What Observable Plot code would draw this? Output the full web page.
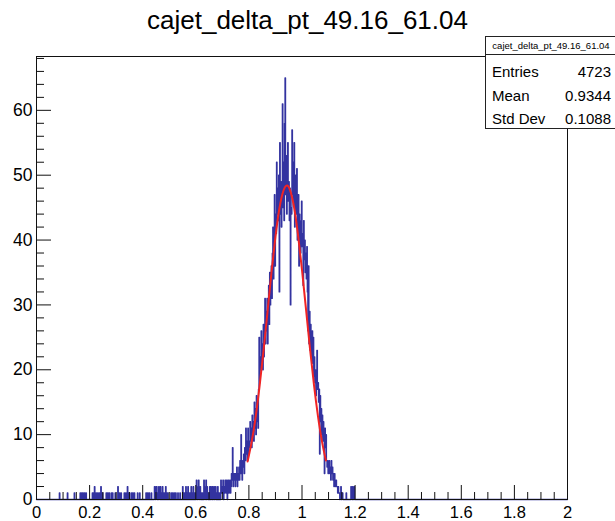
<!DOCTYPE html>
<html>
<head>
<meta charset="utf-8">
<script src="https://cdn.jsdelivr.net/npm/d3@7"></script>
<script src="https://cdn.jsdelivr.net/npm/@observablehq/plot@0.6"></script>
<style>
  body { margin: 0; background: #fff; }
  #wrap { position: relative; width: 615px; height: 521px; overflow: hidden; font-family: "Liberation Sans", Arial, sans-serif; background: #fff; }
  #chart { position: absolute; left: 0; top: 0; }
  #title { position: absolute; left: 0; top: 5px; width: 615px; text-align: center; font-size: 26px; color: #000; white-space: nowrap; }
  #stats { position: absolute; left: 485px; top: 36px; width: 140px; height: 91px; border: 1px solid #222; background: #fff; color: #000; }
  #stats .head { position: absolute; left: 0; top: 0; width: 130px; height: 17px; border-bottom: 1px solid #222; font-size: 9.5px; line-height: 18px; text-align: center; white-space: nowrap; }
  #stats .row { position: absolute; left: 0; width: 130px; height: 20px; font-size: 15px; line-height: 20px; }
  #stats .row .k { position: absolute; left: 6px; }
  #stats .row .v { position: absolute; right: 5px; }
</style>
</head>
<body>
<div id="wrap">
  <div id="chart"></div>
  <div id="title"></div>
  <div id="stats"></div>
</div>
<script>
// ---- data ----
const histTitle = "cajet_delta_pt_49.16_61.04";
const statNames = ["Entries", "Mean", "Std Dev"];
const statValues = ["4723", "0.9344", "0.1088"];

const binWidth = 0.002;          // 1000 bins over [0, 2]
// sparse low tail: bin index and count
const tailBins = [43,58,71,82,85,87,90,93,
  105,107,109,112,115,118,121,124,
  131,134,137,141,143,148,153,156,159,
  165,168,171,174,178,181,184,190,194,
  206,209,212,216,
  222,223,225,226,228,230,231,233,235,237,239,241,243,245,247,
  253,256,259,262,266,270,
  275,277,279,281,283,285,287,289,291,293,295,297,
  299,301,302,304,305,307,308,310,312,
  315,316,318,319,321,322,324,326,
  328,329,331,333,334,336,337,339,341,343,345,347,348,349];
const tailCounts = [1,1,1,1,1,1,1,1,
  1,1,2,1,1,1,2,1,
  1,1,1,1,1,1,2,1,1,
  1,1,2,1,1,1,1,1,1,
  1,1,1,1,
  2,1,2,2,1,2,1,2,1,2,1,1,2,1,1,
  1,1,1,1,1,1,
  2,1,1,2,1,2,1,1,2,1,2,1,
  1,3,1,2,3,1,2,1,1,
  3,2,1,3,2,1,1,2,
  2,1,2,1,2,1,2,1,2,1,1,3,1,2];
// contiguous core, starting at bin 350 (x = 0.70)
const coreStartBin = 350;
const coreCounts = [
  1,3,0,2,1,3,2,1,3,0,2,3,1,2,3,1,
  2,4,3,8,2,4,3,
  4,2,4,3,5,2,4,3,
  5,3,6,4,10,5,3,6,
  5,7,4,8,6,11,7,9,6,11,7,9,
  8,12,9,11,8,13,10,12,9,15,11,14,
  10,16,12,15,11,17,
  25,18,22,20,26,21,24,
  20,27,22,25,31,24,29,
  26,31,24,29,33,27,35,30,
  33,36,31,38,42,34,40,47,36,44,
  41,52,44,48,43,50,32,55,
  44,49,42,47,61,45,52,43,58,
  65,47,53,44,50,
  55,46,49,43,48,30,45,44,57,47,52,46,55,42,50,44,46,51,40,45,47,36,44,40,38,43,46,39,41,33,43,37,40,35,38,34,39,
  32,26,36,24,29,23,27,25,22,26,21,
  25,19,22,18,20,16,19,23,17,18,
  15,17,7,16,12,14,10,
  13,9,12,10,4,11,8,10,
  6,5,6,4,5,6,4,5,3,6,4,
  5,3,4,2,4,3,2,3,2,
  2,1,2,1,1,0,1,2,0,1,1,0,
  0,0,0,0,0,1,0,0,0,0,0,0,0,0,2,1,0,2,0,1,2,0];

// gaussian fit curve
const fitX = [0.795,0.81,0.825,0.84,0.855,0.87,0.885,0.90,0.915,0.93,0.943,0.955,0.97,0.985,1.0,1.015,1.03,1.045,1.06,1.075,1.09];
const fitY = [5.85,8.8,12.6,17.4,22.9,28.9,35.0,40.5,44.9,47.6,48.4,47.7,45.1,40.8,35.4,29.4,23.3,17.7,12.9,9.0,6.0];

// axes
const xMajor = [0,0.2,0.4,0.6,0.8,1,1.2,1.4,1.6,1.8,2];
const xLabels = ["0","0.2","0.4","0.6","0.8","1","1.2","1.4","1.6","1.8","2"];
const xMinor = [0.05,0.1,0.15,0.25,0.3,0.35,0.45,0.5,0.55,0.65,0.7,0.75,0.85,0.9,0.95,1.05,1.1,1.15,1.25,1.3,1.35,1.45,1.5,1.55,1.65,1.7,1.75,1.85,1.9,1.95];
const yMajor = [0,10,20,30,40,50,60];
const yLabels = ["0","10","20","30","40","50","60"];
const yMinor = [2,4,6,8,12,14,16,18,22,24,26,28,32,34,36,38,42,44,46,48,52,54,56,58,62,64,66,68];
const yMax = 68.3;

// ---- build histogram table ----
const nBins = 1000;
const counts = new Array(nBins).fill(0);
tailBins.forEach((b, i) => { counts[b] = tailCounts[i]; });
coreCounts.forEach((c, i) => { counts[coreStartBin + i] = c; });
const hist = counts.map((c, i) => ({x: i * binWidth, y: c}));
hist.push({x: nBins * binWidth, y: counts[nBins - 1]});
const fit = fitX.map((x, i) => ({x, y: fitY[i]}));

const chart = Plot.plot({
  width: 615,
  height: 521,
  marginLeft: 36,
  marginRight: 48,
  marginTop: 56,
  marginBottom: 22,
  x: {domain: [0, 2], label: null},
  y: {domain: [0, yMax], label: null},
  style: {fontFamily: "Liberation Sans, Arial, sans-serif", fontSize: "16px", color: "#000", background: "transparent"},
  marks: [
    Plot.line(hist, {x: "x", y: "y", curve: "step-after", stroke: "#3333a0", strokeWidth: 1.3}),
    Plot.line(fit, {x: "x", y: "y", curve: "natural", stroke: "#f02424", strokeWidth: 2}),
    Plot.frame({stroke: "#111", strokeWidth: 1}),
    Plot.axisX(xMajor, {tickSize: -14, tickFormat: () => "", label: null, stroke: "#111"}),
    Plot.axisX(xMinor, {tickSize: -7, tickFormat: () => "", label: null, stroke: "#111"}),
    Plot.axisX(xMajor, {tickSize: 0, tickPadding: 7, tickFormat: (d, i) => xLabels[i], label: null, fontSize: 16.5}),
    Plot.axisY(yMajor, {tickSize: -15, tickFormat: () => "", label: null, stroke: "#111"}),
    Plot.axisY(yMinor, {tickSize: -8, tickFormat: () => "", label: null, stroke: "#111"}),
    Plot.axisY(yMajor, {tickSize: 0, tickPadding: 4, tickFormat: (d, i) => yLabels[i], label: null, fontSize: 17.5})
  ]
});
document.getElementById("chart").appendChild(chart);

document.getElementById("title").textContent = histTitle;
const stats = document.getElementById("stats");
const head = document.createElement("div");
head.className = "head";
head.textContent = histTitle;
stats.appendChild(head);
const rowTops = [25, 49, 72];
statNames.forEach((n, i) => {
  const r = document.createElement("div");
  r.className = "row";
  r.style.top = rowTops[i] + "px";
  const k = document.createElement("span"); k.className = "k"; k.textContent = n;
  const v = document.createElement("span"); v.className = "v"; v.textContent = statValues[i];
  r.appendChild(k); r.appendChild(v);
  stats.appendChild(r);
});
</script>
</body>
</html>
